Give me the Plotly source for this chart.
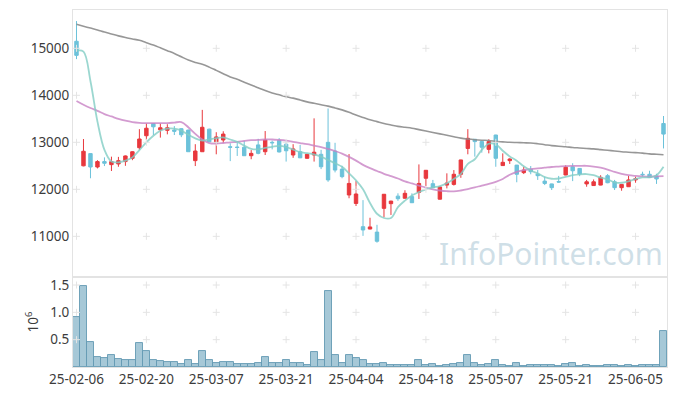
import plotly.graph_objects as go
from plotly.subplots import make_subplots

dates = [
    "25-02-06", "25-02-07", "25-02-10", "25-02-11", "25-02-12", "25-02-13", "25-02-14", "25-02-17",
    "25-02-18", "25-02-19", "25-02-20", "25-02-21", "25-02-24", "25-02-25", "25-02-26", "25-02-27",
    "25-02-28", "25-03-04", "25-03-05", "25-03-06", "25-03-07", "25-03-10", "25-03-11", "25-03-12",
    "25-03-13", "25-03-14", "25-03-17", "25-03-18", "25-03-19", "25-03-20", "25-03-21", "25-03-24",
    "25-03-25", "25-03-26", "25-03-27", "25-03-28", "25-03-31", "25-04-01", "25-04-02", "25-04-03",
    "25-04-04", "25-04-07", "25-04-08", "25-04-09", "25-04-10", "25-04-11", "25-04-14", "25-04-15",
    "25-04-16", "25-04-17", "25-04-18", "25-04-21", "25-04-22", "25-04-23", "25-04-24", "25-04-25",
    "25-04-28", "25-04-29", "25-04-30", "25-05-02", "25-05-07", "25-05-08", "25-05-09", "25-05-12",
    "25-05-13", "25-05-14", "25-05-15", "25-05-16", "25-05-19", "25-05-20", "25-05-21", "25-05-22",
    "25-05-23", "25-05-26", "25-05-27", "25-05-28", "25-05-29", "25-05-30", "25-06-02", "25-06-04",
    "25-06-05", "25-06-09", "25-06-10", "25-06-11", "25-06-12",
]

open_ = [
    15150, 12500, 12760, 12475, 12590, 12525, 12540, 12590, 12660, 12885,
    13140, 13400, 13265, 13255, 13262, 13290, 13260, 12610, 12800, 13280,
    12990, 13050, 12905, 12900, 12895, 12715, 12945, 12800, 13000, 13040,
    12960, 12730, 12800, 12660, 12730, 12745, 13000, 12815, 12430, 11880,
    11700, 11205, 11155, 11090, 11595, 11695, 11855, 11810, 11845, 11935,
    12235, 12120, 11790, 12090, 12105, 12320, 12870, 13065, 13015, 12850,
    13155, 12505, 12610, 12515, 12355, 12425, 12325, 12175, 12115, 12165,
    12305, 12480, 12445, 12115, 12080, 12090, 12290, 12160, 12035, 12055,
    12200, 12320, 12320, 12285, 13400,
]
high = [
    15580, 13070, 12760, 12620, 12680, 12695, 12690, 12720, 12810, 13280,
    13400, 13410, 13400, 13385, 13345, 13300, 13270, 12960, 13690, 13290,
    13215, 13235, 12980, 12990, 13030, 12835, 13075, 13240, 13035, 13090,
    13015, 12960, 12945, 12750, 13510, 12840, 13720, 12990, 12500, 12750,
    12175, 11770, 11395, 11245, 11900, 11755, 11915, 11980, 11915, 12530,
    12410, 12200, 12060, 12340, 12410, 12630, 13280, 13070, 13020, 13065,
    13160, 12765, 12660, 12520, 12480, 12495, 12410, 12270, 12120, 12285,
    12510, 12555, 12450, 12200, 12210, 12300, 12325, 12200, 12110, 12285,
    12270, 12375, 12395, 12330, 13560,
]
low = [
    14770, 12490, 12235, 12445, 12495, 12390, 12480, 12500, 12620, 12840,
    13050, 13155, 13100, 13170, 13155, 13110, 12800, 12495, 12800, 13005,
    12745, 12990, 12600, 12710, 12710, 12640, 12745, 12730, 12850, 12785,
    12590, 12670, 12665, 12655, 12590, 12430, 12160, 12360, 12235, 11810,
    11645, 11010, 11150, 10865, 11405, 11455, 11755, 11805, 11710, 11795,
    12070, 12030, 11785, 12020, 12080, 12245, 12745, 12695, 12780, 12765,
    12480, 12500, 12540, 12150, 12325, 12320, 12200, 12090, 11985, 12140,
    12300, 12175, 12280, 12055, 12075, 12085, 12130, 11985, 11970, 12050,
    12140, 12270, 12245, 12115, 12870,
]
close = [
    14850, 12810, 12475, 12590, 12555, 12590, 12610, 12710, 12800, 13070,
    13300, 13330, 13310, 13310, 13235, 13160, 12800, 12815, 13320, 13010,
    13115, 13175, 12895, 12890, 12715, 12765, 12765, 13050, 12990, 12795,
    12820, 12860, 12670, 12745, 12790, 12480, 12200, 12410, 12270, 12125,
    11900, 11135, 11200, 10895, 11895, 11750, 11800, 11915, 11715, 12125,
    12405, 12035, 12050, 12135, 12320, 12625, 13085, 13015, 12895, 13015,
    12660, 12575, 12645, 12320, 12410, 12375, 12290, 12125, 12035, 12155,
    12470, 12395, 12325, 12160, 12160, 12255, 12140, 12035, 12105, 12200,
    12225, 12310, 12250, 12220, 13175,
]
ma_short = [
    14950, 14930, 14300, 13440, 12840, 12590, 12575, 12610, 12680, 12835,
    13000, 13140, 13245, 13290, 13290, 13250, 13160, 13085, 13035, 13060,
    13090, 13105, 13060, 13010, 12930, 12860, 12850, 12880, 12905, 12925,
    12900, 12845, 12790, 12770, 12745, 12695, 12625, 12555, 12480, 12340,
    12190, 12000, 11710, 11480, 11390, 11390, 11620, 11760, 11870, 11940,
    12000, 12040, 12070, 12130, 12220, 12330, 12540, 12640, 12840, 12970,
    12960, 12820, 12700, 12610, 12490, 12400, 12340, 12260, 12225, 12230,
    12265, 12300, 12320, 12325, 12300, 12250, 12210, 12150, 12140, 12170,
    12220, 12255, 12255, 12300, 12480,
]
ma_mid = [
    13880, 13800, 13730, 13670, 13600, 13550, 13500, 13460, 13430, 13415,
    13410, 13410, 13410, 13410, 13420, 13430, 13320, 13180, 13060, 12985,
    12975, 12985, 13000, 13010, 13030, 13045, 13050, 13060, 13060, 13050,
    13035, 13010, 12985, 12960, 12930, 12900, 12860, 12815, 12760, 12690,
    12610, 12520, 12450, 12390, 12330, 12280, 12230, 12170, 12125, 12080,
    12035, 12000, 11975, 11960, 11955, 11975, 12005, 12040, 12080, 12115,
    12160, 12220, 12310, 12370, 12410, 12430, 12445, 12460, 12475, 12485,
    12495, 12500, 12500, 12500, 12485, 12460, 12420, 12370, 12330, 12300,
    12285, 12275, 12270, 12275, 12280,
]
ma_long = [
    15510, 15470, 15430, 15390, 15345, 15305, 15265, 15230, 15200, 15170,
    15120, 15070, 15010, 14950, 14890, 14820, 14750, 14700, 14660, 14600,
    14530, 14460, 14390, 14340, 14280, 14220, 14160, 14100, 14050, 14010,
    13970, 13940, 13900, 13860, 13830, 13800, 13770, 13730, 13690, 13640,
    13580, 13530, 13480, 13440, 13400, 13370, 13340, 13320, 13300, 13270,
    13240, 13210, 13180, 13150, 13120, 13090, 13070, 13055, 13045, 13040,
    13020, 13010, 13000, 12995, 12990, 12985, 12970, 12950, 12930, 12915,
    12905, 12890, 12880, 12870, 12860, 12845, 12830, 12815, 12800, 12790,
    12780, 12770, 12755, 12745, 12735,
]
volume = [
    915000, 1490000, 460000, 180000, 170000, 210000, 150000, 130000, 130000, 430000,
    300000, 130000, 110000, 100000, 100000, 60000, 120000, 60000, 300000, 120000,
    80000, 100000, 100000, 60000, 60000, 60000, 80000, 180000, 80000, 80000,
    120000, 70000, 80000, 40000, 280000, 120000, 1390000, 210000, 70000, 210000,
    170000, 120000, 55000, 55000, 70000, 40000, 40000, 40000, 40000, 120000,
    40000, 55000, 20000, 40000, 55000, 70000, 220000, 70000, 40000, 55000,
    120000, 40000, 20000, 70000, 20000, 40000, 40000, 40000, 40000, 20000,
    55000, 70000, 20000, 40000, 20000, 20000, 40000, 40000, 20000, 40000,
    20000, 40000, 40000, 40000, 660000,
]

price_ticks = [11000, 12000, 13000, 14000, 15000]
vol_ticks = [0.5, 1.0, 1.5]
vol_tick_text = ["0.5", "1.0", "1.5"]
x_tick_labels = dates[::10]

vol_m = [v / 1e6 for v in volume]

RED = "#e8383d"
BLUE = "#6cc2da"
FONT = "Noto Sans"
TICK_COLOR = "#3c3c3c"
FRAME = "#e3e3e3"

fig = make_subplots(rows=2, cols=1, shared_xaxes=True, vertical_spacing=0,
                    row_heights=[0.748, 0.252])

fig.add_trace(go.Scatter(x=dates, y=ma_long, mode="lines",
                         line=dict(color="rgba(140,140,140,0.9)", width=1.6, shape="spline"),
                         hoverinfo="skip", showlegend=False), row=1, col=1)
fig.add_trace(go.Scatter(x=dates, y=ma_mid, mode="lines",
                         line=dict(color="rgba(200,130,196,0.8)", width=1.8, shape="spline"),
                         hoverinfo="skip", showlegend=False), row=1, col=1)
fig.add_trace(go.Scatter(x=dates, y=ma_short, mode="lines",
                         line=dict(color="rgba(130,205,196,0.8)", width=1.8, shape="spline"),
                         hoverinfo="skip", showlegend=False), row=1, col=1)

fig.add_trace(go.Candlestick(x=dates, open=open_, high=high, low=low, close=close,
                             increasing=dict(line=dict(color=RED, width=1), fillcolor=RED),
                             decreasing=dict(line=dict(color=BLUE, width=1), fillcolor=BLUE),
                             whiskerwidth=0, showlegend=False), row=1, col=1)

fig.add_trace(go.Bar(x=dates, y=vol_m,
                     marker=dict(color="rgba(150,190,208,0.85)",
                                 line=dict(color="rgba(100,154,180,0.9)", width=1)),
                     showlegend=False), row=2, col=1)

# grid crosses at tick intersections
gx, gy = [], []
for d in x_tick_labels:
    for p in price_ticks:
        gx.append(d)
        gy.append(p)
fig.add_trace(go.Scatter(x=gx, y=gy, mode="markers",
                         marker=dict(symbol="cross-thin", size=5,
                                     line=dict(color="#e4e4e4", width=1)),
                         hoverinfo="skip", showlegend=False), row=1, col=1)
vx, vy = [], []
for d in x_tick_labels:
    for p in vol_ticks:
        vx.append(d)
        vy.append(p)
fig.add_trace(go.Scatter(x=vx, y=vy, mode="markers",
                         marker=dict(symbol="cross-thin", size=5,
                                     line=dict(color="#e4e4e4", width=1)),
                         hoverinfo="skip", showlegend=False), row=2, col=1)

fig.add_annotation(text="InfoPointer.com", xref="paper", yref="paper",
                   x=0.805, y=0.318, xanchor="center", yanchor="middle", showarrow=False,
                   font=dict(family=FONT, size=30, color="rgba(192,213,223,0.75)"))

axis_font = dict(family=FONT, size=13.5, color=TICK_COLOR)

fig.update_xaxes(type="category", categoryorder="array", categoryarray=dates,
                 range=[-0.5, len(dates) - 0.5],
                 showgrid=False, zeroline=False, showline=True, mirror=True,
                 linecolor=FRAME, linewidth=1, ticks="",
                 tickvals=x_tick_labels, ticktext=x_tick_labels, tickangle=0,
                 tickfont=axis_font, rangeslider_visible=False)
fig.update_xaxes(showticklabels=False, row=1, col=1)

fig.update_yaxes(range=[10134, 15815], tickvals=price_ticks,
                 ticktext=[str(p) for p in price_ticks],
                 showgrid=False, zeroline=False, showline=True, mirror=True,
                 linecolor=FRAME, linewidth=1, ticks="", tickfont=axis_font,
                 row=1, col=1)
fig.update_yaxes(range=[0, 1.646], tickvals=vol_ticks, ticktext=vol_tick_text,
                 showgrid=False, zeroline=False, showline=True, mirror=True,
                 linecolor=FRAME, linewidth=1, ticks="", tickfont=axis_font,
                 title=dict(text="10<sup>6</sup>", font=axis_font, standoff=8),
                 row=2, col=1)

# page body has an 8px margin; size the figure so the plot area sits where the reference has it
fig.update_layout(width=669, height=388,
                  margin=dict(l=65, r=10, t=2, b=29, autoexpand=False),
                  paper_bgcolor="white", plot_bgcolor="white",
                  bargap=0.0, boxgap=0.3, showlegend=False,
                  font=dict(family=FONT, color=TICK_COLOR))

fig.write_html("out.html")
